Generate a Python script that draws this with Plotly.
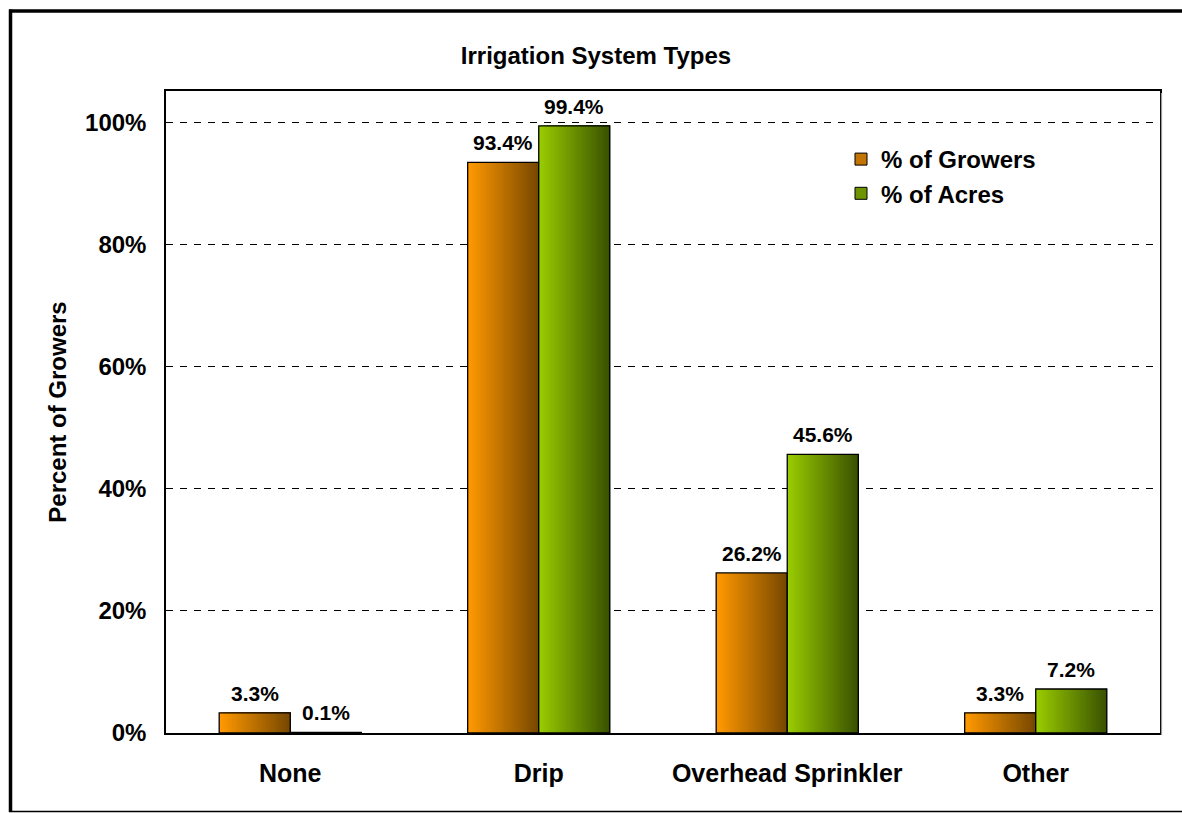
import plotly.graph_objects as go

# ---- data -------------------------------------------------------------
categories = ["None", "Drip", "Overhead Sprinkler", "Other"]
growers_pct = [3.3, 93.4, 26.2, 3.3]
acres_pct = [0.1, 99.4, 45.6, 7.2]
series_names = ["% of Growers", "% of Acres"]
y_tick_values = [0, 20, 40, 60, 80, 100]
y_tick_labels = ["0%", "20%", "40%", "60%", "80%", "100%"]

# ---- styling ----------------------------------------------------------
FONT = "Arial, 'Liberation Sans', sans-serif"
BAR_W = 0.286          # width of one bar in category units
N_STRIPS = 40          # slices used to paint the horizontal gradient

W, H = 1182, 813
M_L, M_R, M_T, M_B = 166, 22, 91, 80


def lerp(c0, c1, t):
    return "rgb(%d,%d,%d)" % tuple(round(a + (b - a) * t) for a, b in zip(c0, c1))


series = [
    dict(name=series_names[0], values=growers_pct, offset=-BAR_W,
         c0=(255, 153, 0), c1=(120, 72, 0)),
    dict(name=series_names[1], values=acres_pct, offset=0.0,
         c0=(153, 204, 0), c1=(58, 82, 0)),
]

fig = go.Figure()

for s in series:
    # gradient fill: each slice runs from its start to the bar's right edge,
    # later slices paint over earlier ones, so no seams appear
    for k in range(N_STRIPS):
        t = k / (N_STRIPS - 1)
        start = s["offset"] + BAR_W * k / N_STRIPS
        fig.add_trace(go.Bar(
            x=categories, y=s["values"],
            offset=start, width=s["offset"] + BAR_W - start,
            marker=dict(color=lerp(s["c0"], s["c1"], t), line=dict(width=0)),
            showlegend=False, hoverinfo="skip",
        ))
    # black outline on top of the gradient
    fig.add_trace(go.Bar(
        x=categories, y=s["values"], offset=s["offset"], width=BAR_W,
        marker=dict(color="rgba(0,0,0,0)", line=dict(color="black", width=1.3)),
        showlegend=False, name=s["name"],
        hovertemplate="%{x}: %{y:.1f}%<extra>" + s["name"] + "</extra>",
    ))

# legend keys
for s in series:
    fig.add_trace(go.Bar(
        x=[None], y=[None], name=s["name"],
        marker=dict(color=lerp(s["c0"], s["c1"], 0.45),
                    line=dict(color="black", width=1)),
    ))

# value labels above each bar
annotations = []
for s in series:
    for i, v in enumerate(s["values"]):
        annotations.append(dict(
            x=i + s["offset"] + BAR_W / 2, y=v, xref="x", yref="y",
            text=f"{v:.1f}%", showarrow=False, yanchor="bottom", yshift=6,
            font=dict(family=FONT, size=21, color="black", weight="bold"),
        ))


def px_x(px):
    return (px - M_L) / (W - M_L - M_R)


def px_y(py):
    return (H - M_B - py) / (H - M_T - M_B)


# outer frame of the chart
frame = dict(type="line", xref="paper", yref="paper", layer="above")
shapes = [
    dict(frame, x0=px_x(10.5), x1=px_x(10.5), y0=px_y(9.5), y1=px_y(812),
         line=dict(color="black", width=3.5)),
    dict(frame, x0=px_x(9), x1=px_x(W + 5), y0=px_y(11), y1=px_y(11),
         line=dict(color="black", width=3.5)),
    dict(frame, x0=px_x(9), x1=px_x(W + 5), y0=px_y(811.5), y1=px_y(811.5),
         line=dict(color="black", width=1.5)),
    # faint shadow along the right edge of the plot area
    dict(frame, x0=px_x(1161.5), x1=px_x(1161.5), y0=px_y(93), y1=px_y(735),
         line=dict(color="#9a9a9a", width=1.2)),
]

fig.update_layout(
    width=W, height=H,
    margin=dict(l=M_L, r=M_R, t=M_T, b=M_B, autoexpand=False),
    paper_bgcolor="white", plot_bgcolor="white",
    barmode="overlay",
    font=dict(family=FONT, color="black"),
    title=dict(
        text="Irrigation System Types",
        x=596 / W, xanchor="center", xref="container",
        y=1 - 56 / H, yanchor="middle", yref="container",
        font=dict(family=FONT, size=24, color="black", weight="bold"),
    ),
    xaxis=dict(
        type="category", categoryorder="array", categoryarray=categories,
        range=[-0.5, len(categories) - 0.5],
        showline=True, mirror=True, linecolor="black", linewidth=1.5,
        showgrid=False, ticks="", ticklabelstandoff=17,
        tickfont=dict(family=FONT, size=25, color="black", weight="bold"),
        automargin=False, fixedrange=True,
    ),
    yaxis=dict(
        range=[0, 105.1],
        tickvals=y_tick_values, ticktext=y_tick_labels,
        showline=True, mirror=True, linecolor="black", linewidth=1.5,
        showgrid=True, gridcolor="black", gridwidth=1, griddash="7px,7px",
        zeroline=False, ticks="", ticklabelstandoff=13,
        tickfont=dict(family=FONT, size=24, color="black", weight="bold"),
        title=dict(text="Percent of Growers", standoff=12,
                   font=dict(family=FONT, size=24, color="black", weight="bold")),
        automargin=False, fixedrange=True,
    ),
    legend=dict(
        x=px_x(841), y=px_y(137), xanchor="left", yanchor="top",
        bgcolor="rgba(0,0,0,0)", borderwidth=0, traceorder="normal",
        font=dict(family=FONT, size=24, color="black", weight="bold"),
    ),
    annotations=annotations,
    shapes=shapes,
    showlegend=True,
)

fig.write_html("out.html")
